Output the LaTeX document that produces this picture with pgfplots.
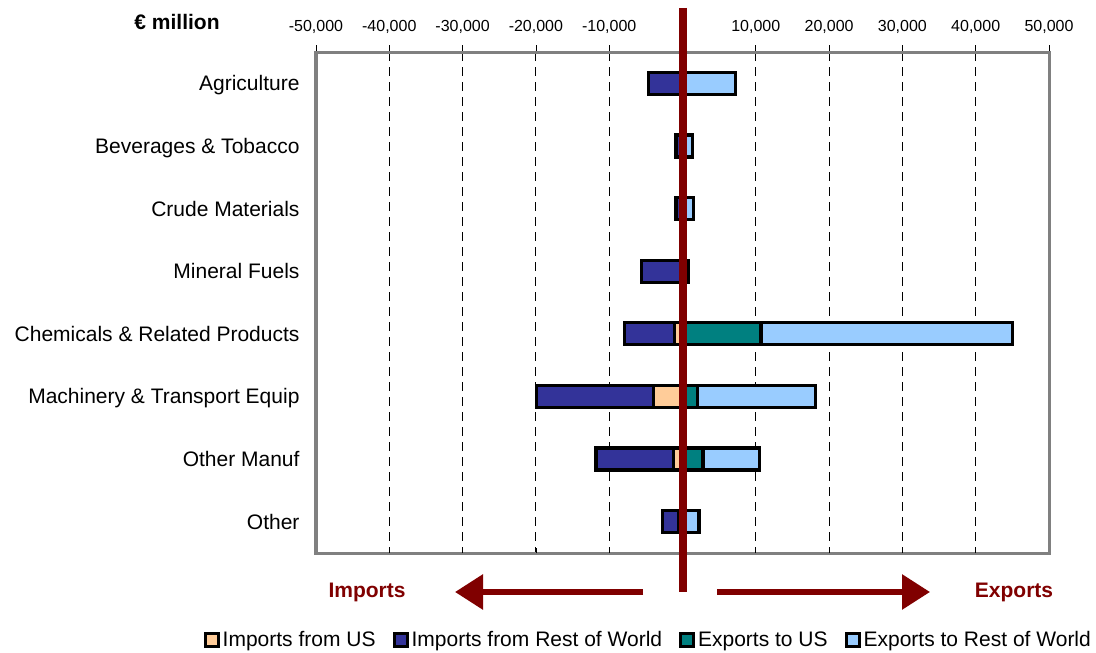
\documentclass[border=0pt]{standalone}
\usepackage{fontspec}
\setmainfont{Liberation Sans}
\usepackage{pgfplots}
\pgfplotsset{compat=1.18}
\usetikzlibrary{arrows.meta}
\definecolor{impUS}{HTML}{FFCC99}
\definecolor{impRW}{HTML}{333399}
\definecolor{expUS}{HTML}{008080}
\definecolor{expRW}{HTML}{99CCFF}
\definecolor{flow}{HTML}{800000}
\definecolor{framegray}{HTML}{808080}
\newcommand{\labelfont}{\fontsize{21bp}{25bp}\selectfont}
\pgfplotsset{
  tradeaxis/.style={
    at={(316bp,100bp)}, anchor=south west,
    scale only axis, width=733bp, height=501bp,
    xbar stacked, bar width=22bp,
    xmin=-50000, xmax=50000,
    ymin=-0.5, ymax=7.5, y dir=reverse,
    scaled x ticks=false,
    clip=false,
  },
  segment/.style={fill=#1, draw=black, line width=3.2bp},
}
\begin{document}
\begin{tikzpicture}
\path[use as bounding box] (0,0) rectangle (1096bp,653bp);
% imports (stacked to the left) together with frame, ticks and grid
\begin{axis}[
  tradeaxis,
  ytick={0,...,7},
  yticklabels={Agriculture, Beverages \& Tobacco, Crude Materials, Mineral Fuels,
    Chemicals \& Related Products, Machinery \& Transport Equip, Other Manuf, Other},
  ytick style={draw=none},
  yticklabel style={font=\labelfont, xshift=-6bp, text height=15bp, text depth=0bp},
  xtick={-50000,-40000,...,50000},
  xticklabels={{-50,000},{-40,000},{-30,000},{-20,000},{-10,000},{},{10,000},{20,000},{30,000},{40,000},{50,000}},
  xtick pos=upper, xticklabel pos=upper,
  tick align=outside, major tick length=7bp,
  xtick style={black, line width=0.8bp},
  xticklabel style={font=\fontsize{16bp}{19bp}\selectfont, yshift=8bp},
  xmajorgrids,
  major grid style={black, line width=1bp, dash pattern=on 9bp off 6bp},
  axis line style={framegray, line width=3bp},
]
\addplot[segment=impUS] coordinates
  {(-300,0) (-300,1) (-300,2) (-200,3) (-1100,4) (-4000,5) (-1200,6) (-500,7)};
\addplot[segment=impRW] coordinates
  {(-4350,0) (-600,1) (-600,2) (-5400,3) (-6800,4) (-15900,5) (-10600,6) (-2250,7)};
\coordinate (O) at (axis cs:0,0);
\end{axis}
% exports (stacked to the right), bottom tick marks and the legend
\begin{axis}[
  tradeaxis,
  axis line style={draw=none},
  ytick=\empty,
  xtick={-40000,-30000,...,40000}, xticklabels={},
  xtick pos=lower, tick align=inside, major tick length=5bp,
  xtick style={black, line width=0.8bp},
  legend columns=4,
  legend style={draw=none, fill=none, font=\labelfont,
    at={(axis description cs:1.0587,-0.1737)}, anchor=east,
    inner sep=0pt,
    /tikz/every odd column/.append style={column sep=2bp},
    /tikz/every even column/.append style={column sep=16bp},
    nodes={inner xsep=1bp, inner ysep=0pt}},
  legend image code/.code={\draw[#1, line width=3bp] (0bp,-6.5bp) rectangle (13bp,6.5bp);},
]
\addlegendimage{segment=impUS}
\addlegendimage{segment=impRW}
\addplot[segment=expUS] coordinates
  {(300,0) (300,1) (200,2) (100,3) (10700,4) (2000,5) (2800,6) (400,7)};
\addplot[segment=expRW] coordinates
  {(6950,0) (1100,1) (1300,2) (700,3) (34300,4) (16100,5) (7650,6) (1850,7)};
\legend{Imports from US, Imports from Rest of World, Exports to US, Exports to Rest of World}
\end{axis}
% zero line separating imports from exports
\path (0bp,645bp) coordinate (T) (0bp,61bp) coordinate (B);
\draw[flow, line width=8bp] (O |- T) -- (O |- B);
\draw[flow, line width=6bp, -{Triangle[length=28bp,width=34bp]}] (643bp,61bp) -- (455bp,61bp);
\draw[flow, line width=6bp, -{Triangle[length=28bp,width=34bp]}] (717bp,61bp) -- (930bp,61bp);
\node[flow, font=\bfseries\labelfont] at (367bp,61bp) {Imports};
\node[flow, font=\bfseries\labelfont] at (1014bp,61bp) {Exports};
\node[font=\bfseries\labelfont] at (177bp,631bp) {€ million};
\end{tikzpicture}
\end{document}
